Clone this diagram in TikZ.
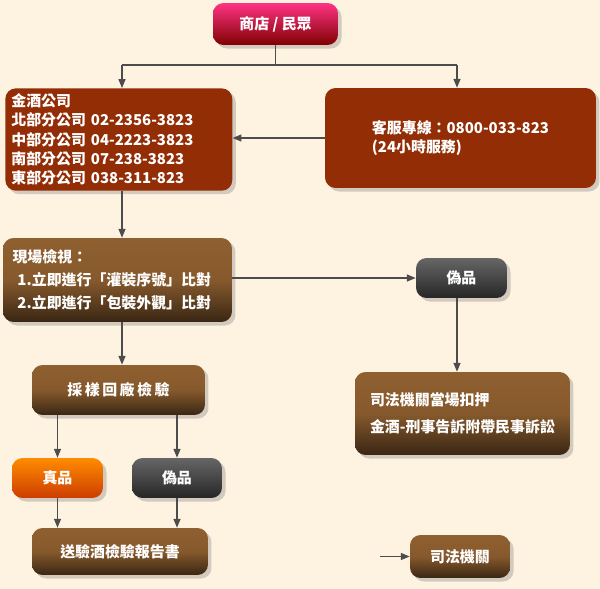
\documentclass[tikz,border=0pt]{standalone}
\usepackage{fontspec}
\newfontfamily\cjk{Noto Sans CJK TC}
\usetikzlibrary{shadows,arrows.meta}
\begin{document}
\begin{tikzpicture}[x=0.02cm,y=-0.02cm,
  box/.style={rounded corners=6pt,text=white,font=\cjk\bfseries\fontsize{8.5}{11}\selectfont,drop shadow={opacity=0.35,shadow xshift=2pt,shadow yshift=-2pt},inner sep=3pt},
  crim/.style={box,top color=red!60!magenta!80!white,bottom color=red!50!black},
  brown/.style={box,top color=brown!75!black,bottom color=brown!30!black,middle color=brown!70!black},
  gray/.style={box,top color=gray!80!black,bottom color=black!85},
  orange/.style={box,top color=orange!90!yellow,bottom color=orange!60!red!80!black},
  arr/.style={-{Triangle[length=5pt,width=4pt]},black!70,line width=0.6pt},
  ln/.style={black!70,line width=0.6pt}]
\fill[yellow!15!orange!10!white] (0,0) rectangle (600,589);
\definecolor{rb}{HTML}{922D05}
\node[crim,minimum width=2.5cm,minimum height=0.84cm] (top) at (275.5,24) {商店 / 民眾};
\node[box,fill=rb,minimum width=4.54cm,minimum height=2cm,align=left,anchor=north west,text width=4.3cm] (l) at (5,88) {金酒公司\\北部分公司 02-2356-3823\\中部分公司 04-2223-3823\\南部分公司 07-238-3823\\東部分公司 038-311-823};
\node[box,fill=rb,minimum width=5.42cm,minimum height=2cm,align=left] (r) at (460.5,138) {客服專線：0800-033-823\\(24小時服務)};
\node[brown,minimum width=4.58cm,minimum height=1.68cm,align=left,text width=4.2cm] (v) at (117.5,280) {現場檢視：\\[2pt]\ 1.立即進行「灌裝序號」比對\\[2pt]\ 2.立即進行「包裝外觀」比對};
\node[gray,minimum width=1.82cm,minimum height=0.8cm] (f1) at (461.5,278) {偽品};
\node[brown,minimum width=4.3cm,minimum height=1.66cm,align=left] (j) at (462.5,413.5) {司法機關當場扣押\\[4pt]金酒-刑事告訴附帶民事訴訟};
\node[brown,minimum width=3.46cm,minimum height=1cm] (s) at (118.5,390) {採\,樣\,回\,廠\,檢\,驗};
\node[orange,minimum width=1.82cm,minimum height=0.8cm] (t) at (57.5,478) {真品};
\node[gray,minimum width=1.8cm,minimum height=0.8cm] (f2) at (177,478) {偽品};
\node[brown,minimum width=3.52cm,minimum height=0.94cm] (sd) at (120,551.5) {送驗酒檢驗報告書};
\node[brown,minimum width=2cm,minimum height=0.86cm] (sf) at (460,556.5) {司法機關};
\coordinate (a0) at (275.5,65);
\coordinate (al) at (122,65);
\coordinate (ar) at (457,65);
\coordinate (an) at (380,556.5);
\draw[ln] (top.south) -- (a0);
\draw[ln] (al) -- (ar);
\draw[arr] (al) -- (l.north -| al);
\draw[arr] (ar) -- (r.north -| ar);
\draw[arr] (r.west) -- (l.east |- r.west);
\draw[arr] (l.south -| al) -- (v.north -| al);
\draw[arr] (v.east |- f1) -- (f1.west);
\draw[arr] (f1.south -| ar) -- (j.north -| ar);
\draw[arr] (v.south -| al) -- (s.north -| al);
\draw[arr] (s.south -| t) -- (t.north);
\draw[arr] (s.south -| f2) -- (f2.north);
\draw[arr] (t.south) -- (sd.north -| t);
\draw[arr] (f2.south) -- (sd.north -| f2);
\draw[arr] (an) -- (sf.west);
\end{tikzpicture}
\end{document}
